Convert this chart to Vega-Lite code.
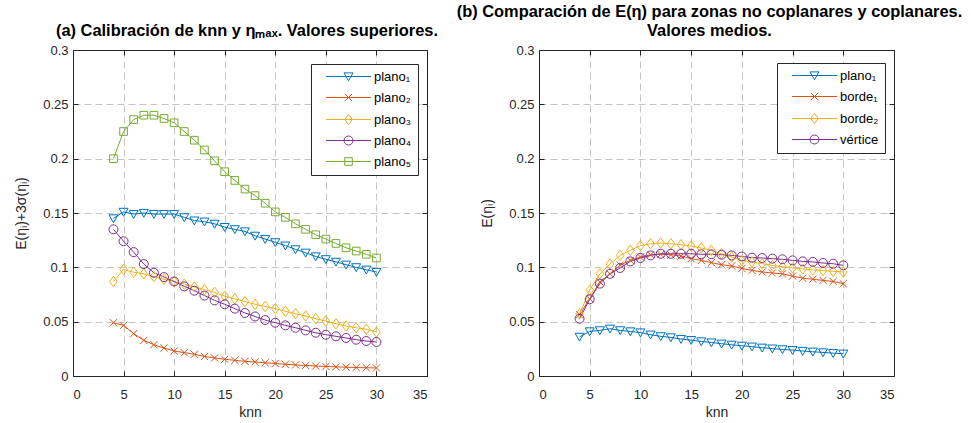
{
  "$schema": "https://vega.github.io/schema/vega-lite/v6.json",
  "autosize": {"type": "pad"},
  "padding": {"left": 14, "top": 3, "right": 0, "bottom": 0},
  "background": "white",
  "config": {
    "font": "Liberation Sans",
    "view": {"stroke": null},
    "axis": {
      "domainColor": "#262626",
      "domainWidth": 1,
      "tickColor": "#262626",
      "tickWidth": 1,
      "tickSize": -5,
      "labelColor": "#262626",
      "labelFont": "Liberation Sans",
      "labelFontSize": 13,
      "titleColor": "#262626",
      "titleFont": "Liberation Sans",
      "titleFontSize": 14,
      "titleFontWeight": "normal",
      "gridColor": "#c4c4c4",
      "gridDash": [7, 4],
      "gridWidth": 1
    },
    "legend": {
      "orient": "none",
      "title": null,
      "strokeColor": "#262626",
      "fillColor": "white",
      "padding": 6,
      "cornerRadius": 0,
      "labelFont": "Liberation Sans",
      "labelFontSize": 13,
      "labelColor": "black",
      "symbolStrokeWidth": 1,
      "symbolSize": 81,
      "symbolOpacity": 1,
      "symbolFillColor": "transparent",
      "symbolOffset": 25,
      "labelOffset": 19,
      "rowPadding": 7
    },
    "title": {
      "font": "Liberation Sans",
      "fontSize": 16.4,
      "fontWeight": "bold",
      "color": "black",
      "anchor": "middle",
      "offset": 5,
      "lineHeight": 19
    }
  },
  "datasets": {
    "superiores": [
      {"knn":4,"serie":"plano₁","valor":0.145},{"knn":5,"serie":"plano₁","valor":0.151},{"knn":6,"serie":"plano₁","valor":0.149},{"knn":7,"serie":"plano₁","valor":0.150},{"knn":8,"serie":"plano₁","valor":0.149},{"knn":9,"serie":"plano₁","valor":0.149},{"knn":10,"serie":"plano₁","valor":0.149},{"knn":11,"serie":"plano₁","valor":0.146},{"knn":12,"serie":"plano₁","valor":0.143},{"knn":13,"serie":"plano₁","valor":0.142},{"knn":14,"serie":"plano₁","valor":0.140},{"knn":15,"serie":"plano₁","valor":0.137},{"knn":16,"serie":"plano₁","valor":0.135},{"knn":17,"serie":"plano₁","valor":0.133},{"knn":18,"serie":"plano₁","valor":0.129},{"knn":19,"serie":"plano₁","valor":0.126},{"knn":20,"serie":"plano₁","valor":0.123},{"knn":21,"serie":"plano₁","valor":0.120},{"knn":22,"serie":"plano₁","valor":0.1165},{"knn":23,"serie":"plano₁","valor":0.1134},{"knn":24,"serie":"plano₁","valor":0.110},{"knn":25,"serie":"plano₁","valor":0.1074},{"knn":26,"serie":"plano₁","valor":0.105},{"knn":27,"serie":"plano₁","valor":0.1024},{"knn":28,"serie":"plano₁","valor":0.100},{"knn":29,"serie":"plano₁","valor":0.0978},{"knn":30,"serie":"plano₁","valor":0.0957},
      {"knn":4,"serie":"plano₂","valor":0.049},{"knn":5,"serie":"plano₂","valor":0.0466},{"knn":6,"serie":"plano₂","valor":0.039},{"knn":7,"serie":"plano₂","valor":0.0328},{"knn":8,"serie":"plano₂","valor":0.0288},{"knn":9,"serie":"plano₂","valor":0.0258},{"knn":10,"serie":"plano₂","valor":0.023},{"knn":11,"serie":"plano₂","valor":0.0215},{"knn":12,"serie":"plano₂","valor":0.020},{"knn":13,"serie":"plano₂","valor":0.018},{"knn":14,"serie":"plano₂","valor":0.0166},{"knn":15,"serie":"plano₂","valor":0.0154},{"knn":16,"serie":"plano₂","valor":0.0144},{"knn":17,"serie":"plano₂","valor":0.0135},{"knn":18,"serie":"plano₂","valor":0.0129},{"knn":19,"serie":"plano₂","valor":0.0122},{"knn":20,"serie":"plano₂","valor":0.0115},{"knn":21,"serie":"plano₂","valor":0.0108},{"knn":22,"serie":"plano₂","valor":0.0102},{"knn":23,"serie":"plano₂","valor":0.0097},{"knn":24,"serie":"plano₂","valor":0.0092},{"knn":25,"serie":"plano₂","valor":0.0088},{"knn":26,"serie":"plano₂","valor":0.0084},{"knn":27,"serie":"plano₂","valor":0.0081},{"knn":28,"serie":"plano₂","valor":0.0078},{"knn":29,"serie":"plano₂","valor":0.0076},{"knn":30,"serie":"plano₂","valor":0.0074},
      {"knn":4,"serie":"plano₃","valor":0.087},{"knn":5,"serie":"plano₃","valor":0.098},{"knn":6,"serie":"plano₃","valor":0.0955},{"knn":7,"serie":"plano₃","valor":0.094},{"knn":8,"serie":"plano₃","valor":0.0915},{"knn":9,"serie":"plano₃","valor":0.089},{"knn":10,"serie":"plano₃","valor":0.087},{"knn":11,"serie":"plano₃","valor":0.0846},{"knn":12,"serie":"plano₃","valor":0.082},{"knn":13,"serie":"plano₃","valor":0.0795},{"knn":14,"serie":"plano₃","valor":0.077},{"knn":15,"serie":"plano₃","valor":0.0735},{"knn":16,"serie":"plano₃","valor":0.071},{"knn":17,"serie":"plano₃","valor":0.0685},{"knn":18,"serie":"plano₃","valor":0.066},{"knn":19,"serie":"plano₃","valor":0.064},{"knn":20,"serie":"plano₃","valor":0.062},{"knn":21,"serie":"plano₃","valor":0.0595},{"knn":22,"serie":"plano₃","valor":0.0573},{"knn":23,"serie":"plano₃","valor":0.0552},{"knn":24,"serie":"plano₃","valor":0.0527},{"knn":25,"serie":"plano₃","valor":0.0506},{"knn":26,"serie":"plano₃","valor":0.0481},{"knn":27,"serie":"plano₃","valor":0.046},{"knn":28,"serie":"plano₃","valor":0.0444},{"knn":29,"serie":"plano₃","valor":0.043},{"knn":30,"serie":"plano₃","valor":0.0405},
      {"knn":4,"serie":"plano₄","valor":0.135},{"knn":5,"serie":"plano₄","valor":0.124},{"knn":6,"serie":"plano₄","valor":0.114},{"knn":7,"serie":"plano₄","valor":0.103},{"knn":8,"serie":"plano₄","valor":0.095},{"knn":9,"serie":"plano₄","valor":0.091},{"knn":10,"serie":"plano₄","valor":0.087},{"knn":11,"serie":"plano₄","valor":0.0825},{"knn":12,"serie":"plano₄","valor":0.0785},{"knn":13,"serie":"plano₄","valor":0.074},{"knn":14,"serie":"plano₄","valor":0.0696},{"knn":15,"serie":"plano₄","valor":0.066},{"knn":16,"serie":"plano₄","valor":0.062},{"knn":17,"serie":"plano₄","valor":0.058},{"knn":18,"serie":"plano₄","valor":0.0548},{"knn":19,"serie":"plano₄","valor":0.0515},{"knn":20,"serie":"plano₄","valor":0.049},{"knn":21,"serie":"plano₄","valor":0.0466},{"knn":22,"serie":"plano₄","valor":0.0444},{"knn":23,"serie":"plano₄","valor":0.042},{"knn":24,"serie":"plano₄","valor":0.0398},{"knn":25,"serie":"plano₄","valor":0.038},{"knn":26,"serie":"plano₄","valor":0.0365},{"knn":27,"serie":"plano₄","valor":0.035},{"knn":28,"serie":"plano₄","valor":0.0334},{"knn":29,"serie":"plano₄","valor":0.0322},{"knn":30,"serie":"plano₄","valor":0.0313},
      {"knn":4,"serie":"plano₅","valor":0.200},{"knn":5,"serie":"plano₅","valor":0.225},{"knn":6,"serie":"plano₅","valor":0.236},{"knn":7,"serie":"plano₅","valor":0.240},{"knn":8,"serie":"plano₅","valor":0.240},{"knn":9,"serie":"plano₅","valor":0.237},{"knn":10,"serie":"plano₅","valor":0.233},{"knn":11,"serie":"plano₅","valor":0.225},{"knn":12,"serie":"plano₅","valor":0.217},{"knn":13,"serie":"plano₅","valor":0.208},{"knn":14,"serie":"plano₅","valor":0.198},{"knn":15,"serie":"plano₅","valor":0.188},{"knn":16,"serie":"plano₅","valor":0.180},{"knn":17,"serie":"plano₅","valor":0.172},{"knn":18,"serie":"plano₅","valor":0.166},{"knn":19,"serie":"plano₅","valor":0.159},{"knn":20,"serie":"plano₅","valor":0.151},{"knn":21,"serie":"plano₅","valor":0.146},{"knn":22,"serie":"plano₅","valor":0.140},{"knn":23,"serie":"plano₅","valor":0.135},{"knn":24,"serie":"plano₅","valor":0.130},{"knn":25,"serie":"plano₅","valor":0.126},{"knn":26,"serie":"plano₅","valor":0.122},{"knn":27,"serie":"plano₅","valor":0.118},{"knn":28,"serie":"plano₅","valor":0.115},{"knn":29,"serie":"plano₅","valor":0.112},{"knn":30,"serie":"plano₅","valor":0.1086}
    ],
    "medios": [
      {"knn":4,"serie":"plano₁","valor":0.036},{"knn":5,"serie":"plano₁","valor":0.041},{"knn":6,"serie":"plano₁","valor":0.042},{"knn":7,"serie":"plano₁","valor":0.0435},{"knn":8,"serie":"plano₁","valor":0.042},{"knn":9,"serie":"plano₁","valor":0.041},{"knn":10,"serie":"plano₁","valor":0.040},{"knn":11,"serie":"plano₁","valor":0.038},{"knn":12,"serie":"plano₁","valor":0.0365},{"knn":13,"serie":"plano₁","valor":0.0355},{"knn":14,"serie":"plano₁","valor":0.034},{"knn":15,"serie":"plano₁","valor":0.033},{"knn":16,"serie":"plano₁","valor":0.0318},{"knn":17,"serie":"plano₁","valor":0.0308},{"knn":18,"serie":"plano₁","valor":0.0297},{"knn":19,"serie":"plano₁","valor":0.0287},{"knn":20,"serie":"plano₁","valor":0.0278},{"knn":21,"serie":"plano₁","valor":0.027},{"knn":22,"serie":"plano₁","valor":0.026},{"knn":23,"serie":"plano₁","valor":0.0252},{"knn":24,"serie":"plano₁","valor":0.0245},{"knn":25,"serie":"plano₁","valor":0.0238},{"knn":26,"serie":"plano₁","valor":0.023},{"knn":27,"serie":"plano₁","valor":0.0223},{"knn":28,"serie":"plano₁","valor":0.0217},{"knn":29,"serie":"plano₁","valor":0.021},{"knn":30,"serie":"plano₁","valor":0.0205},
      {"knn":4,"serie":"borde₁","valor":0.0564},{"knn":5,"serie":"borde₁","valor":0.071},{"knn":6,"serie":"borde₁","valor":0.0865},{"knn":7,"serie":"borde₁","valor":0.094},{"knn":8,"serie":"borde₁","valor":0.102},{"knn":9,"serie":"borde₁","valor":0.1064},{"knn":10,"serie":"borde₁","valor":0.1095},{"knn":11,"serie":"borde₁","valor":0.1116},{"knn":12,"serie":"borde₁","valor":0.112},{"knn":13,"serie":"borde₁","valor":0.1116},{"knn":14,"serie":"borde₁","valor":0.1104},{"knn":15,"serie":"borde₁","valor":0.108},{"knn":16,"serie":"borde₁","valor":0.1064},{"knn":17,"serie":"borde₁","valor":0.1043},{"knn":18,"serie":"borde₁","valor":0.1024},{"knn":19,"serie":"borde₁","valor":0.1012},{"knn":20,"serie":"borde₁","valor":0.099},{"knn":21,"serie":"borde₁","valor":0.0972},{"knn":22,"serie":"borde₁","valor":0.0957},{"knn":23,"serie":"borde₁","valor":0.0948},{"knn":24,"serie":"borde₁","valor":0.094},{"knn":25,"serie":"borde₁","valor":0.092},{"knn":26,"serie":"borde₁","valor":0.090},{"knn":27,"serie":"borde₁","valor":0.089},{"knn":28,"serie":"borde₁","valor":0.088},{"knn":29,"serie":"borde₁","valor":0.087},{"knn":30,"serie":"borde₁","valor":0.085},
      {"knn":4,"serie":"borde₂","valor":0.057},{"knn":5,"serie":"borde₂","valor":0.079},{"knn":6,"serie":"borde₂","valor":0.094},{"knn":7,"serie":"borde₂","valor":0.103},{"knn":8,"serie":"borde₂","valor":0.111},{"knn":9,"serie":"borde₂","valor":0.1156},{"knn":10,"serie":"borde₂","valor":0.120},{"knn":11,"serie":"borde₂","valor":0.1217},{"knn":12,"serie":"borde₂","valor":0.1224},{"knn":13,"serie":"borde₂","valor":0.1217},{"knn":14,"serie":"borde₂","valor":0.1208},{"knn":15,"serie":"borde₂","valor":0.1196},{"knn":16,"serie":"borde₂","valor":0.1178},{"knn":17,"serie":"borde₂","valor":0.1156},{"knn":18,"serie":"borde₂","valor":0.1125},{"knn":19,"serie":"borde₂","valor":0.1095},{"knn":20,"serie":"borde₂","valor":0.1064},{"knn":21,"serie":"borde₂","valor":0.105},{"knn":22,"serie":"borde₂","valor":0.1033},{"knn":23,"serie":"borde₂","valor":0.1018},{"knn":24,"serie":"borde₂","valor":0.1005},{"knn":25,"serie":"borde₂","valor":0.0995},{"knn":26,"serie":"borde₂","valor":0.0985},{"knn":27,"serie":"borde₂","valor":0.0977},{"knn":28,"serie":"borde₂","valor":0.097},{"knn":29,"serie":"borde₂","valor":0.0963},{"knn":30,"serie":"borde₂","valor":0.0957},
      {"knn":4,"serie":"vértice","valor":0.0527},{"knn":5,"serie":"vértice","valor":0.0706},{"knn":6,"serie":"vértice","valor":0.085},{"knn":7,"serie":"vértice","valor":0.094},{"knn":8,"serie":"vértice","valor":0.0994},{"knn":9,"serie":"vértice","valor":0.1055},{"knn":10,"serie":"vértice","valor":0.1086},{"knn":11,"serie":"vértice","valor":0.111},{"knn":12,"serie":"vértice","valor":0.1125},{"knn":13,"serie":"vértice","valor":0.1125},{"knn":14,"serie":"vértice","valor":0.1125},{"knn":15,"serie":"vértice","valor":0.1125},{"knn":16,"serie":"vértice","valor":0.112},{"knn":17,"serie":"vértice","valor":0.112},{"knn":18,"serie":"vértice","valor":0.1116},{"knn":19,"serie":"vértice","valor":0.111},{"knn":20,"serie":"vértice","valor":0.110},{"knn":21,"serie":"vértice","valor":0.1089},{"knn":22,"serie":"vértice","valor":0.1086},{"knn":23,"serie":"vértice","valor":0.108},{"knn":24,"serie":"vértice","valor":0.1074},{"knn":25,"serie":"vértice","valor":0.1064},{"knn":26,"serie":"vértice","valor":0.1055},{"knn":27,"serie":"vértice","valor":0.105},{"knn":28,"serie":"vértice","valor":0.104},{"knn":29,"serie":"vértice","valor":0.1033},{"knn":30,"serie":"vértice","valor":0.1018}
    ]
  },
  "bounds": "flush",
  "spacing": 112,
  "hconcat": [
    {
      "width": 354,
      "height": 326,
      "title": {"text": "(a) Calibración de knn y ηₘₐₓ. Valores superiores.", "dx": -3},
      "data": {"name": "superiores"},
      "layer": [
        {
          "mark": {"type": "line", "strokeWidth": 1},
          "encoding": {
            "x": {"field": "knn", "type": "quantitative", "scale": {"domain": [0, 35], "nice": false, "zero": false},
                  "axis": {"orient": "bottom", "values": [0, 5, 10, 15, 20, 25, 30, 35], "grid": true, "title": "knn", "labelPadding": 17.5, "titlePadding": 4}},
            "y": {"field": "valor", "type": "quantitative", "scale": {"domain": [0, 0.3], "nice": false, "zero": false},
                  "axis": {"orient": "left", "values": [0, 0.05, 0.1, 0.15, 0.2, 0.25, 0.3], "format": ".2~f", "grid": true, "title": "E(ηᵢ)+3σ(ηᵢ)", "labelPadding": 10, "titlePadding": 14}},
            "color": {"field": "serie", "type": "nominal",
                      "scale": {"domain": ["plano₁", "plano₂", "plano₃", "plano₄", "plano₅"], "range": ["#0072BD", "#D95319", "#EDB120", "#7E2F8E", "#77AC30"]},
                      "legend": null}
          }
        },
        {
          "mark": {"type": "point", "filled": false, "size": 81, "strokeWidth": 1, "opacity": 1},
          "encoding": {
            "x": {"field": "knn", "type": "quantitative", "axis": {"orient": "top", "values": [0, 5, 10, 15, 20, 25, 30, 35], "labels": false, "grid": false, "title": null}},
            "y": {"field": "valor", "type": "quantitative", "axis": {"orient": "right", "values": [0, 0.05, 0.1, 0.15, 0.2, 0.25, 0.3], "labels": false, "grid": false, "title": null}},
            "color": {"field": "serie", "type": "nominal",
                      "scale": {"domain": ["plano₁", "plano₂", "plano₃", "plano₄", "plano₅"], "range": ["#0072BD", "#D95319", "#EDB120", "#7E2F8E", "#77AC30"]},
                      "legend": null},
            "shape": {"field": "serie", "type": "nominal",
                      "scale": {"domain": ["plano₁", "plano₂", "plano₃", "plano₄", "plano₅"],
                                "range": ["M-1,-0.8L1,-0.8L0,0.95Z", "M-0.8,-0.8L0.8,0.8M-0.8,0.8L0.8,-0.8", "M0,-1.15L0.85,0L0,1.15L-0.85,0Z", "M1,0A1,1,0,1,1,-1,0A1,1,0,1,1,1,0Z", "M-0.85,-0.85H0.85V0.85H-0.85Z"]},
                      "legend": null}
          }
        },
        {
          "mark": {"type": "point", "filled": false, "size": 81, "strokeWidth": 1, "opacity": 0},
          "encoding": {
            "x": {"field": "knn", "type": "quantitative", "axis": null},
            "y": {"field": "valor", "type": "quantitative", "axis": null},
            "color": {"field": "serie", "type": "nominal",
                      "scale": {"domain": ["plano₁", "plano₂", "plano₃", "plano₄", "plano₅"], "range": ["#0072BD", "#D95319", "#EDB120", "#7E2F8E", "#77AC30"]},
                      "legend": {"legendX": 238, "legendY": 14}},
            "shape": {"field": "serie", "type": "nominal",
                      "scale": {"domain": ["plano₁", "plano₂", "plano₃", "plano₄", "plano₅"],
                                "range": ["M-5,0H5M-1,-0.8L1,-0.8L0,0.95Z", "M-5,0H5M-0.8,-0.8L0.8,0.8M-0.8,0.8L0.8,-0.8", "M-5,0H5M0,-1.15L0.85,0L0,1.15L-0.85,0Z", "M-5,0H5M1,0A1,1,0,1,1,-1,0A1,1,0,1,1,1,0Z", "M-5,0H5M-0.85,-0.85H0.85V0.85H-0.85Z"]},
                      "legend": {"legendX": 238, "legendY": 14}}
          }
        }
      ],
      "resolve": {"scale": {"shape": "independent", "color": "independent"}, "axis": {"x": "independent", "y": "independent"}}
    },
    {
      "width": 355,
      "height": 326,
      "title": {"text": ["(b) Comparación de E(η) para zonas no coplanares y coplanares.", "Valores medios."], "dx": -7},
      "data": {"name": "medios"},
      "layer": [
        {
          "mark": {"type": "line", "strokeWidth": 1},
          "encoding": {
            "x": {"field": "knn", "type": "quantitative", "scale": {"domain": [0, 35], "nice": false, "zero": false},
                  "axis": {"orient": "bottom", "values": [0, 5, 10, 15, 20, 25, 30, 35], "grid": true, "title": "knn", "labelPadding": 17.5, "titlePadding": 4}},
            "y": {"field": "valor", "type": "quantitative", "scale": {"domain": [0, 0.3], "nice": false, "zero": false},
                  "axis": {"orient": "left", "values": [0, 0.05, 0.1, 0.15, 0.2, 0.25, 0.3], "format": ".2~f", "grid": true, "title": "E(ηᵢ)", "labelPadding": 10, "titlePadding": 14}},
            "color": {"field": "serie", "type": "nominal",
                      "scale": {"domain": ["plano₁", "borde₁", "borde₂", "vértice"], "range": ["#0072BD", "#D95319", "#EDB120", "#7E2F8E"]},
                      "legend": null}
          }
        },
        {
          "mark": {"type": "point", "filled": false, "size": 81, "strokeWidth": 1, "opacity": 1},
          "encoding": {
            "x": {"field": "knn", "type": "quantitative", "axis": {"orient": "top", "values": [0, 5, 10, 15, 20, 25, 30, 35], "labels": false, "grid": false, "title": null}},
            "y": {"field": "valor", "type": "quantitative", "axis": {"orient": "right", "values": [0, 0.05, 0.1, 0.15, 0.2, 0.25, 0.3], "labels": false, "grid": false, "title": null}},
            "color": {"field": "serie", "type": "nominal",
                      "scale": {"domain": ["plano₁", "borde₁", "borde₂", "vértice"], "range": ["#0072BD", "#D95319", "#EDB120", "#7E2F8E"]},
                      "legend": null},
            "shape": {"field": "serie", "type": "nominal",
                      "scale": {"domain": ["plano₁", "borde₁", "borde₂", "vértice"],
                                "range": ["M-1,-0.8L1,-0.8L0,0.95Z", "M-0.8,-0.8L0.8,0.8M-0.8,0.8L0.8,-0.8", "M0,-1.15L0.85,0L0,1.15L-0.85,0Z", "M1,0A1,1,0,1,1,-1,0A1,1,0,1,1,1,0Z"]},
                      "legend": null}
          }
        },
        {
          "mark": {"type": "point", "filled": false, "size": 81, "strokeWidth": 1, "opacity": 0},
          "encoding": {
            "x": {"field": "knn", "type": "quantitative", "axis": null},
            "y": {"field": "valor", "type": "quantitative", "axis": null},
            "color": {"field": "serie", "type": "nominal",
                      "scale": {"domain": ["plano₁", "borde₁", "borde₂", "vértice"], "range": ["#0072BD", "#D95319", "#EDB120", "#7E2F8E"]},
                      "legend": {"legendX": 238, "legendY": 13}},
            "shape": {"field": "serie", "type": "nominal",
                      "scale": {"domain": ["plano₁", "borde₁", "borde₂", "vértice"],
                                "range": ["M-5,0H5M-1,-0.8L1,-0.8L0,0.95Z", "M-5,0H5M-0.8,-0.8L0.8,0.8M-0.8,0.8L0.8,-0.8", "M-5,0H5M0,-1.15L0.85,0L0,1.15L-0.85,0Z", "M-5,0H5M1,0A1,1,0,1,1,-1,0A1,1,0,1,1,1,0Z"]},
                      "legend": {"legendX": 238, "legendY": 13}}
          }
        }
      ],
      "resolve": {"scale": {"shape": "independent", "color": "independent"}, "axis": {"x": "independent", "y": "independent"}}
    }
  ]
}
